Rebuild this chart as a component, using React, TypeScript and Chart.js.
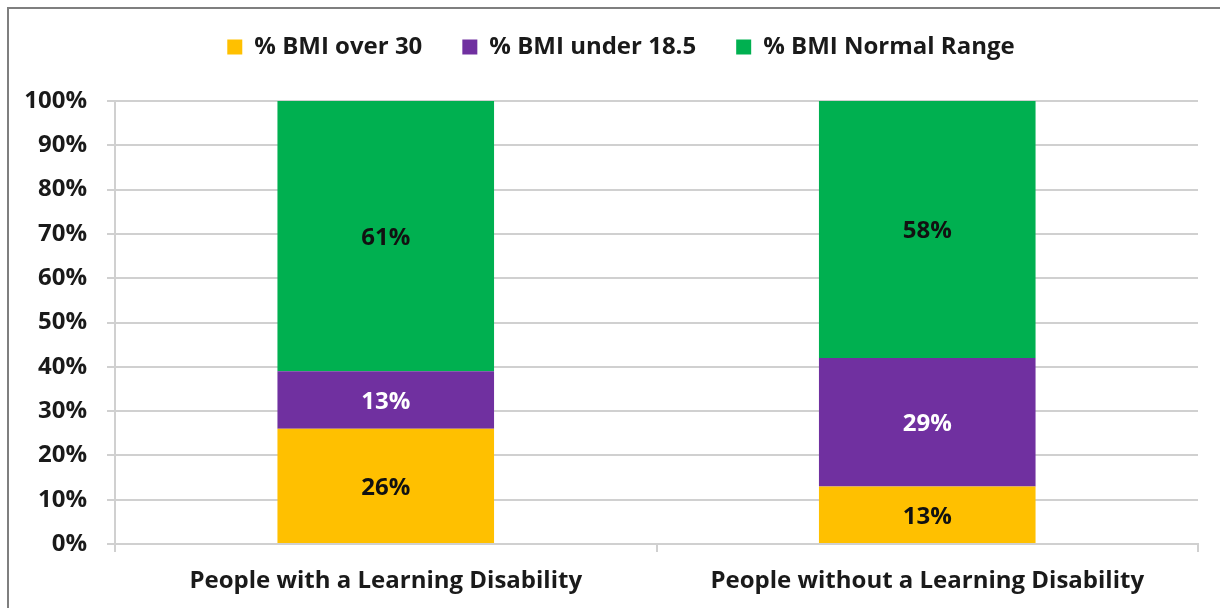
import React, { useEffect, useRef } from "react";
import { Chart, registerables } from "chart.js";

Chart.register(...registerables);

const categories = ["People with a Learning Disability", "People without a Learning Disability"];
const seriesNames = ["% BMI over 30", "% BMI under 18.5", "% BMI Normal Range"];
const over30 = [26, 13];
const under185 = [13, 29];
const normalRange = [61, 58];
const seriesColors = ["#FFC000", "#7030A0", "#00B050"];
const labelColors = ["#111111", "#ffffff", "#111111"];
const yTicks = [0, 10, 20, 30, 40, 50, 60, 70, 80, 90, 100];

const FONT = "'Open Sans'";
const SIZE = 24;
const TEXT = "#1a1a1a";
const GRID = "#d0d0d0";

const valueLabels = {
  id: "valueLabels",
  afterDatasetsDraw(chart: any) {
    const ctx = chart.ctx;
    ctx.save();
    ctx.font = `bold ${SIZE}px ${FONT}`;
    ctx.textAlign = "center";
    ctx.textBaseline = "middle";
    chart.data.datasets.forEach((ds: any, di: number) => {
      const meta = chart.getDatasetMeta(di);
      meta.data.forEach((bar: any, i: number) => {
        const v = ds.data[i];
        const p = bar.getProps(["x", "y", "base"], true);
        ctx.fillStyle = labelColors[di];
        ctx.fillText(v + "%", p.x, (p.y + p.base) / 2 + 2);
      });
    });
    ctx.restore();
  },
};

// shift the legend so it is centred like the original
const legendShift = {
  id: "legendShift",
  afterLayout(chart: any) {
    const lg = chart.legend;
    if (lg) {
      lg.left += 22;
      lg.right += 22;
    }
  },
};

export default function App() {
  const ref = useRef<HTMLCanvasElement>(null);
  useEffect(() => {
    if (!ref.current) return;
    const chart = new Chart(ref.current, {
      type: "bar",
      data: {
        labels: categories,
        datasets: [over30, under185, normalRange].map((d, i) => ({
          label: seriesNames[i],
          data: d,
          backgroundColor: seriesColors[i],
          borderWidth: 0,
          categoryPercentage: 1,
          barPercentage: 0.4,
        })),
      },
      options: {
        responsive: false,
        animation: false,
        devicePixelRatio: 1,
        layout: { padding: { top: -5, left: 0, right: 22, bottom: 0 } },
        plugins: {
          tooltip: { enabled: false },
          legend: {
            position: "top",
            weight: 3000,
            labels: {
              boxWidth: 15,
              boxHeight: 15,
              padding: 40,
              color: TEXT,
              font: { family: FONT, size: SIZE, weight: "bold" },
            },
          },
          subtitle: {
            display: true,
            text: "",
            font: { size: 13, lineHeight: 1 },
            padding: { top: 0, bottom: 19 },
          },
        },
        scales: {
          x: {
            stacked: true,
            afterFit: (s: any) => {
              s.height = 64;
            },
            grid: {
              drawOnChartArea: false,
              drawTicks: true,
              tickLength: 8,
              color: GRID,
              lineWidth: 2,
            },
            border: { display: true, color: GRID, width: 2 },
            ticks: {
              color: TEXT,
              padding: 15,
              font: { family: FONT, size: SIZE, weight: "bold" },
            },
          },
          y: {
            stacked: true,
            min: 0,
            max: 100,
            afterFit: (s: any) => {
              s.width = 115;
            },
            afterBuildTicks: (s: any) => {
              s.ticks = yTicks.map((v) => ({ value: v }));
            },
            grid: { color: GRID, lineWidth: 2, tickLength: 8 },
            border: { display: true, color: GRID, width: 2 },
            ticks: {
              color: TEXT,
              padding: 20,
              font: { family: FONT, size: SIZE, weight: "bold" },
              callback: (v: any) => v + "%",
            },
          },
        },
      },
      plugins: [valueLabels, legendShift],
    });
    return () => chart.destroy();
  }, []);

  return (
    <div
      style={{
        position: "fixed",
        left: 0,
        top: 0,
        width: 1220,
        height: 608,
        overflow: "hidden",
        background: "#ffffff",
      }}
    >
      <div
        style={{
          position: "absolute",
          left: 7,
          top: 7,
          width: 1300,
          height: 700,
          border: "2px solid #7f7f7f",
          boxSizing: "border-box",
        }}
      />
      <canvas
        ref={ref}
        width={1220}
        height={608}
        style={{ position: "absolute", left: 0, top: 0, width: 1220, height: 608 }}
      />
    </div>
  );
}
